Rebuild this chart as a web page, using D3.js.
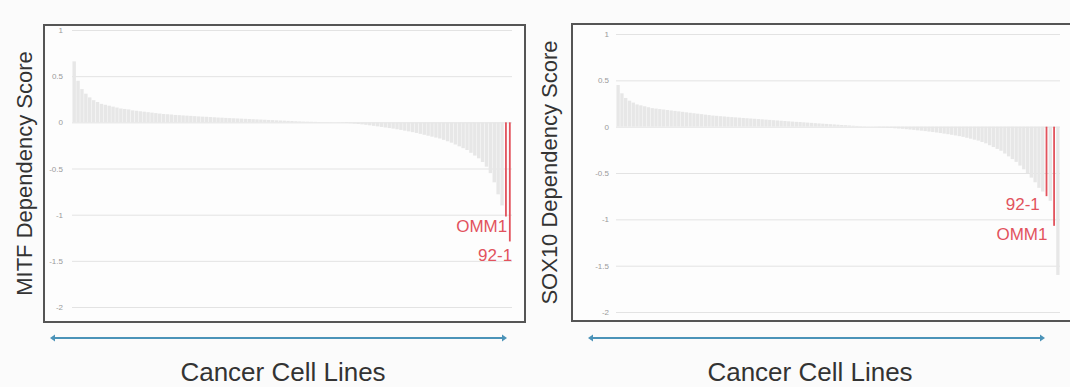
<!DOCTYPE html>
<html>
<head>
<meta charset="utf-8">
<script src="https://cdn.jsdelivr.net/npm/d3@7"></script>
<style>
  body { margin: 0; background: #fbfbfb; }
  svg { display: block; font-family: "Liberation Sans", Arial, sans-serif; }
</style>
</head>
<body>
<div id="chart"></div>
<script>
// tick values shared by both panels
const yTicks = [1, 0.5, 0, -0.5, -1, -1.5, -2];
const xTitle = 'Cancer Cell Lines';

// MITF dependency, cell lines sorted high -> low (grey ones)
const mitfScores = [
  0.66, 0.45, 0.36, 0.31, 0.27, 0.24, 0.22, 0.2, 0.19, 0.18,
  0.17, 0.16, 0.15, 0.145, 0.14, 0.13, 0.125, 0.12, 0.115, 0.11,
  0.105, 0.1, 0.095, 0.09, 0.088, 0.085, 0.08, 0.078, 0.075, 0.072,
  0.07, 0.067, 0.064, 0.062, 0.06, 0.057, 0.055, 0.052, 0.05, 0.048,
  0.046, 0.044, 0.042, 0.04, 0.038, 0.036, 0.034, 0.032, 0.03, 0.028,
  0.026, 0.024, 0.022, 0.02, 0.018, 0.016, 0.014, 0.012, 0.01, 0.008,
  0.007, 0.006, 0.005, 0.004, 0.003, 0.002, 0.001, 0, -0.002, -0.004,
  -0.007, -0.01, -0.014, -0.018, -0.022, -0.027, -0.032, -0.038, -0.044, -0.05,
  -0.056, -0.062, -0.068, -0.075, -0.082, -0.09, -0.098, -0.106, -0.115, -0.125,
  -0.135, -0.145, -0.155, -0.165, -0.175, -0.19, -0.205, -0.22, -0.24, -0.26,
  -0.28, -0.3, -0.33, -0.36, -0.39, -0.43, -0.48, -0.55, -0.65, -0.78,
  -0.9
];
// highlighted uveal melanoma lines
const mitfHighlight = ['OMM1', '92-1'];
const mitfHighlightScore = [-1.02, -1.29];

// SOX10 dependency
const sox10Scores = [
  0.45, 0.36, 0.31, 0.28, 0.26, 0.24, 0.23, 0.22, 0.21, 0.2,
  0.195, 0.19, 0.185, 0.18, 0.175, 0.17, 0.165, 0.16, 0.155, 0.15,
  0.145, 0.14, 0.135, 0.13, 0.125, 0.12, 0.117, 0.113, 0.11, 0.106,
  0.103, 0.1, 0.097, 0.094, 0.091, 0.088, 0.085, 0.082, 0.079, 0.076,
  0.073, 0.07, 0.067, 0.064, 0.061, 0.058, 0.055, 0.052, 0.05, 0.047,
  0.044, 0.041, 0.038, 0.035, 0.032, 0.03, 0.027, 0.024, 0.021, 0.018,
  0.016, 0.013, 0.01, 0.008, 0.005, 0.003, 0.001, -0.001, -0.003, -0.005,
  -0.008, -0.011, -0.014, -0.017, -0.02, -0.023, -0.027, -0.031, -0.035, -0.039,
  -0.043, -0.048, -0.053, -0.058, -0.063, -0.069, -0.075, -0.081, -0.088, -0.095,
  -0.102, -0.11, -0.12, -0.13, -0.14, -0.15, -0.165, -0.18, -0.2, -0.22,
  -0.24, -0.26, -0.29, -0.32, -0.35, -0.38, -0.42, -0.46, -0.5, -0.55,
  -0.6, -0.66, -0.7, -0.8, -1.6
];
const sox10Highlight = ['92-1', 'OMM1'];
const sox10HighlightScore = [-0.75, -1.07];

const W = 1070, H = 387;
const red = '#e2535d';

const svg = d3.select('#chart').append('svg')
    .attr('width', W)
    .attr('height', H);

svg.append('rect').attr('width', W).attr('height', H).attr('fill', '#fbfbfb');

// panel geometry lives here, not in the data
const panels = [
  {
    title: 'MITF Dependency Score', scores: mitfScores,
    names: mitfHighlight, hiScores: mitfHighlightScore,
    frame: [44, 25, 525, 322], plotX: [72, 512], plotY: [307, 30],
    titleX: 24, tickX: 63, arrow: [52, 505], xTitleX: 283,
    labelDy: [10, 14], labelDx: [3, 4]
  },
  {
    title: 'SOX10 Dependency Score', scores: sox10Scores,
    names: sox10Highlight, hiScores: sox10HighlightScore,
    frame: [572, 24, 1073, 321], plotX: [616, 1060], plotY: [312, 34],
    titleX: 549, tickX: 609, arrow: [590, 1043], xTitleX: 810,
    labelDy: [8, 8], labelDx: [-5, -5]
  }
];

const drawPanel = (p) => {
  // merge grey + red lines and sort like the original ranking
  var rows = p.scores.map((v) => ({ v: v, name: null }))
    .concat(p.hiScores.map((v, i) => ({ v: v, name: p.names[i] })));
  rows.sort((a, b) => b.v - a.v);

  var x = d3.scaleBand()
    .domain(d3.range(rows.length))
    .range(p.plotX)
    .padding(0.12);

  var y = d3.scaleLinear()
    .domain([-2, 1])
    .range(p.plotY);

  var g = svg.append('g');

  // frame
  g.append('rect')
    .attr('x', p.frame[0])
    .attr('y', p.frame[1])
    .attr('width', p.frame[2] - p.frame[0])
    .attr('height', p.frame[3] - p.frame[1])
    .attr('fill', '#fdfdfd')
    .attr('stroke', '#555')
    .attr('stroke-width', 2);

  // gridlines + tick labels
  var yAxis = d3.axisLeft(y)
    .tickValues(yTicks)
    .tickSize(-(p.plotX[1] - p.plotX[0]))
    .tickPadding(p.plotX[0] - p.tickX)
    .tickFormat(d3.format('~g'));

  var ax = g.append('g')
    .attr('transform', `translate(${p.plotX[0]},0)`)
    .call(yAxis);
  ax.select('.domain').remove();
  ax.selectAll('.tick line').attr('stroke', '#e3e3e3').attr('stroke-width', 1);
  ax.selectAll('.tick text')
    .attr('fill', '#9a9a9a')
    .style('font-size', '8px')
    .text((d) => d < 0 ? '-' + Math.abs(d) : d);

  // bars
  g.append('g').selectAll('rect')
    .data(rows.filter((d) => !d.name))
    .enter()
    .append('rect')
    .attr('x', (d) => x(rows.indexOf(d)))
    .attr('width', x.bandwidth())
    .attr('y', (d) => y(Math.max(0, d.v)))
    .attr('height', (d) => Math.abs(y(d.v) - y(0)))
    .attr('fill', '#e7e7e7');

  var hi = rows.filter((d) => d.name);
  g.append('g').selectAll('rect')
    .data(hi)
    .enter()
    .append('rect')
    .attr('x', (d) => x(rows.indexOf(d)) + x.bandwidth() / 2 - 0.9)
    .attr('width', 1.8)
    .attr('y', y(0))
    .attr('height', (d) => y(d.v) - y(0))
    .attr('fill', red);

  g.append('g').selectAll('text')
    .data(hi)
    .enter()
    .append('text')
    .attr('x', (d, i) => x(rows.indexOf(d)) + p.labelDx[i])
    .attr('y', (d, i) => y(d.v) + p.labelDy[i])
    .attr('dy', '0.35em')
    .attr('text-anchor', 'end')
    .attr('fill', red)
    .style('font-size', '17px')
    .text((d) => d.name);

  // y title
  g.append('text')
    .attr('transform', `translate(${p.titleX},${(p.frame[1] + p.frame[3]) / 2}) rotate(-90)`)
    .attr('text-anchor', 'middle')
    .attr('dy', '0.35em')
    .attr('fill', '#333')
    .style('font-size', '22px')
    .text(p.title);

  // double headed arrow
  var ay = 338;
  g.append('line')
    .attr('x1', p.arrow[0]).attr('x2', p.arrow[1])
    .attr('y1', ay).attr('y2', ay)
    .attr('stroke', '#4b93b8')
    .attr('stroke-width', 2);
  [[p.arrow[0], -1], [p.arrow[1], 1]].forEach((a) => {
    g.append('path')
      .attr('d', `M${a[0] + a[1] * 2},${ay} L${a[0] - a[1] * 3},${ay - 3.5} L${a[0] - a[1] * 3},${ay + 3.5} Z`)
      .attr('fill', '#4b93b8');
  });

  g.append('text')
    .attr('x', p.xTitleX)
    .attr('y', 381)
    .attr('text-anchor', 'middle')
    .attr('fill', '#333')
    .style('font-size', '26px')
    .text(xTitle);
};

panels.forEach(drawPanel);
</script>
</body>
</html>
